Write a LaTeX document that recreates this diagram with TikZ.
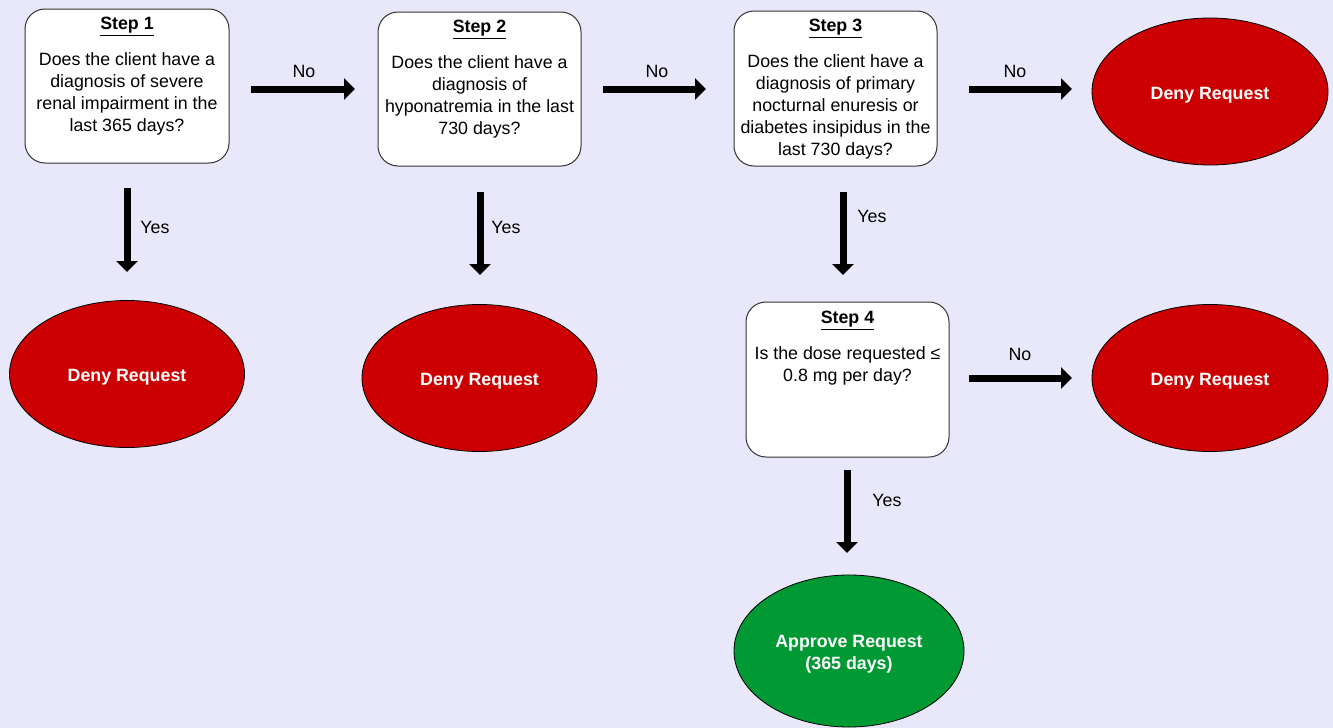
\documentclass[tikz,border=0pt]{standalone}
\usepackage{fontspec}
\setmainfont{Liberation Sans}
\usetikzlibrary{arrows.meta,shapes.geometric}
\definecolor{bg}{RGB}{232,232,250}
\definecolor{denyred}{RGB}{204,0,0}
\definecolor{okgreen}{RGB}{0,153,51}
\tikzset{
  stepbox/.style={draw=black!80, line width=1pt, fill=white, rounded corners=20pt,
    minimum width=204pt, minimum height=154pt, inner sep=0pt},
  steptext/.style={anchor=north, align=center, inner sep=0pt, font=\fontsize{17.8}{22}\selectfont},
  oval/.style={ellipse, draw=black, line width=0.8pt, inner sep=0pt, text=white,
    font=\fontsize{17.8}{22}\selectfont\bfseries, align=center},
  denyoval/.style={oval, fill=denyred, minimum width=235pt, minimum height=147pt, text height=19pt},
  approveoval/.style={oval, fill=okgreen, minimum width=230pt, minimum height=152pt, text height=41pt},
  flow/.style={line width=7pt, -{Triangle[width=21pt,length=11pt]}},
  lbl/.style={font=\fontsize{17.8}{20}\selectfont, inner sep=0pt},
}
\begin{document}
\begin{tikzpicture}[x=1pt,y=-1pt]
\fill[bg] (0,0) rectangle (1333,728);
\useasboundingbox (0,0) rectangle (1333,728);

% step boxes
\node[stepbox] (s1) at (127,86) {};
\node[steptext] (t1) at (127,17) {\underline{\textbf{Step 1}}\\[14pt]Does the client have a\\diagnosis of severe\\renal impairment in the\\last 365 days?};
\node[stepbox, minimum width=203pt] (s2) at (479.5,89) {};
\node[steptext] (t2) at (479.5,20) {\underline{\textbf{Step 2}}\\[14pt]Does the client have a\\diagnosis of\\hyponatremia in the last\\730 days?};
\node[stepbox, minimum width=203pt, minimum height=155pt] (s3) at (835.5,88.5) {};
\node[steptext] (t3) at (835.5,19) {\underline{\textbf{Step 3}}\\[14pt]Does the client have a\\diagnosis of primary\\nocturnal enuresis or\\diabetes insipidus in the\\last 730 days?};
\node[stepbox, minimum width=203pt, minimum height=155pt] (s4) at (847.5,379.5) {};
\node[steptext] (t4) at (847.5,311) {\underline{\textbf{Step 4}}\\[14pt]Is the dose requested ≤\\0.8 mg per day?};

% outcomes
\node[denyoval] (d1) at (127,374) {Deny Request};
\node[denyoval] (d2) at (479.5,378) {Deny Request};
\node[denyoval, minimum width=236pt] (d3) at (1210,91.5) {Deny Request};
\node[denyoval, minimum width=236pt] (d4) at (1210,378) {Deny Request};
\node[approveoval] (ap) at (849,651) {Approve Request\\(365 days)};

% arrow end points
\coordinate (n1a) at (251,89);  \coordinate (n1b) at (355,89);
\coordinate (n2a) at (603,89);  \coordinate (n2b) at (706,89);
\coordinate (n3a) at (969,89);  \coordinate (n3b) at (1072,89);
\coordinate (n4a) at (969,378); \coordinate (n4b) at (1072,378);
\coordinate (y1a) at (127,188); \coordinate (y1b) at (127,272);
\coordinate (y2a) at (480,192); \coordinate (y2b) at (480,275);
\coordinate (y3a) at (843,192); \coordinate (y3b) at (843,275);
\coordinate (y4a) at (847,470); \coordinate (y4b) at (847,553);

\draw[flow] (n1a) -- (n1b);
\draw[flow] (n2a) -- (n2b);
\draw[flow] (n3a) -- (n3b);
\draw[flow] (n4a) -- (n4b);
\draw[flow] (y1a) -- (y1b);
\draw[flow] (y2a) -- (y2b);
\draw[flow] (y3a) -- (y3b);
\draw[flow] (y4a) -- (y4b);

\node[lbl] (ln1) at (304,71) {No};
\node[lbl] (ln2) at (657,71) {No};
\node[lbl] (ln3) at (1015,71) {No};
\node[lbl] (ln4) at (1020,354) {No};
\node[lbl] (ly1) at (155,227) {Yes};
\node[lbl] (ly2) at (506,227) {Yes};
\node[lbl] (ly3) at (872,216) {Yes};
\node[lbl] (ly4) at (887,500) {Yes};
\end{tikzpicture}
\end{document}
